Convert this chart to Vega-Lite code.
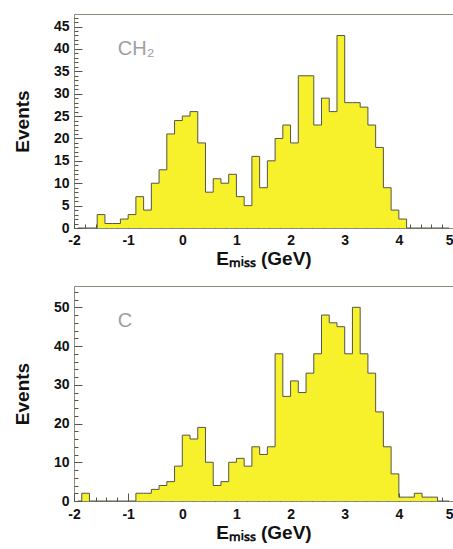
{
  "$schema": "https://vega.github.io/schema/vega-lite/v6.json",
  "padding": {"left": 12, "top": 10, "right": 0, "bottom": 4},
  "spacing": 15,
  "config": {
    "view": {"stroke": "#8c8c7c", "strokeWidth": 1},
    "font": "Liberation Sans",
    "axis": {
      "labelFont": "Liberation Sans", "labelFontWeight": "bold", "labelFontSize": 14, "labelColor": "#111",
      "titleFont": "Liberation Sans", "titleFontWeight": "bold", "titleFontSize": 19, "titleColor": "#111",
      "grid": false, "domain": false, "tickColor": "#55554a", "tickWidth": 1, "labelOverlap": false, "labelFlush": false
    }
  },
  "datasets": {
    "ch2": [
      {"e": -1.9286, "n": 0}, {"e": -1.7857, "n": 0}, {"e": -1.6429, "n": 0}, {"e": -1.5, "n": 3}, {"e": -1.3571, "n": 1},
      {"e": -1.2143, "n": 1}, {"e": -1.0714, "n": 2}, {"e": -0.9286, "n": 3}, {"e": -0.7857, "n": 7}, {"e": -0.6429, "n": 4},
      {"e": -0.5, "n": 10}, {"e": -0.3571, "n": 13}, {"e": -0.2143, "n": 21}, {"e": -0.0714, "n": 24}, {"e": 0.0714, "n": 25},
      {"e": 0.2143, "n": 26}, {"e": 0.3571, "n": 19}, {"e": 0.5, "n": 8}, {"e": 0.6429, "n": 11}, {"e": 0.7857, "n": 10},
      {"e": 0.9286, "n": 12}, {"e": 1.0714, "n": 7}, {"e": 1.2143, "n": 5}, {"e": 1.3571, "n": 16}, {"e": 1.5, "n": 9},
      {"e": 1.6429, "n": 15}, {"e": 1.7857, "n": 20}, {"e": 1.9286, "n": 23}, {"e": 2.0714, "n": 19}, {"e": 2.2143, "n": 34},
      {"e": 2.3571, "n": 34}, {"e": 2.5, "n": 23}, {"e": 2.6429, "n": 29}, {"e": 2.7857, "n": 26}, {"e": 2.9286, "n": 43},
      {"e": 3.0714, "n": 28}, {"e": 3.2143, "n": 28}, {"e": 3.3571, "n": 27}, {"e": 3.5, "n": 23}, {"e": 3.6429, "n": 18},
      {"e": 3.7857, "n": 9}, {"e": 3.9286, "n": 4}, {"e": 4.0714, "n": 2}, {"e": 4.2143, "n": 0}, {"e": 4.3571, "n": 0},
      {"e": 4.5, "n": 0}, {"e": 4.6429, "n": 0}, {"e": 4.7857, "n": 0}, {"e": 4.9286, "n": 0}
    ],
    "c": [
      {"e": -1.9286, "n": 0}, {"e": -1.7857, "n": 2}, {"e": -1.6429, "n": 0}, {"e": -1.5, "n": 0}, {"e": -1.3571, "n": 0},
      {"e": -1.2143, "n": 0}, {"e": -1.0714, "n": 0}, {"e": -0.9286, "n": 0}, {"e": -0.7857, "n": 2}, {"e": -0.6429, "n": 2},
      {"e": -0.5, "n": 3}, {"e": -0.3571, "n": 4}, {"e": -0.2143, "n": 5}, {"e": -0.0714, "n": 9}, {"e": 0.0714, "n": 17},
      {"e": 0.2143, "n": 16}, {"e": 0.3571, "n": 19}, {"e": 0.5, "n": 10}, {"e": 0.6429, "n": 4}, {"e": 0.7857, "n": 5},
      {"e": 0.9286, "n": 10}, {"e": 1.0714, "n": 11}, {"e": 1.2143, "n": 9}, {"e": 1.3571, "n": 14}, {"e": 1.5, "n": 12},
      {"e": 1.6429, "n": 14}, {"e": 1.7857, "n": 38}, {"e": 1.9286, "n": 27}, {"e": 2.0714, "n": 31}, {"e": 2.2143, "n": 28},
      {"e": 2.3571, "n": 33}, {"e": 2.5, "n": 38}, {"e": 2.6429, "n": 48}, {"e": 2.7857, "n": 46}, {"e": 2.9286, "n": 45},
      {"e": 3.0714, "n": 38}, {"e": 3.2143, "n": 50}, {"e": 3.3571, "n": 38}, {"e": 3.5, "n": 33}, {"e": 3.6429, "n": 23},
      {"e": 3.7857, "n": 14}, {"e": 3.9286, "n": 7}, {"e": 4.0714, "n": 1}, {"e": 4.2143, "n": 1}, {"e": 4.3571, "n": 2},
      {"e": 4.5, "n": 1}, {"e": 4.6429, "n": 1}, {"e": 4.7857, "n": 0}, {"e": 4.9286, "n": 0}
    ],
    "labels": [
      {"panel": "CH2", "label": "CH₂"},
      {"panel": "C", "label": "C"}
    ]
  },
  "vconcat": [
    {
      "width": 379,
      "height": 214,
      "layer": [
        {
          "data": {"name": "ch2"},
          "mark": {"type": "area", "interpolate": "step", "color": "#f6f12a", "opacity": 1},
          "encoding": {
            "x": {
              "field": "e", "type": "quantitative",
              "scale": {"domain": [-2, 5], "nice": false, "zero": false},
              "axis": {
                "title": "Eₘᵢₛₛ (GeV)",
                "values": [-2, -1.8, -1.6, -1.4, -1.2, -1, -0.8, -0.6, -0.4, -0.2, 0, 0.2, 0.4, 0.6, 0.8, 1, 1.2, 1.4, 1.6, 1.8, 2, 2.2, 2.4, 2.6, 2.8, 3, 3.2, 3.4, 3.6, 3.8, 4, 4.2, 4.4, 4.6, 4.8, 5],
                "labelExpr": "abs(datum.value - round(datum.value)) < 0.001 ? '' + round(datum.value) : ''",
                "tickSize": {"condition": {"test": "abs(datum.value - round(datum.value)) < 0.001", "value": -8}, "value": -4},
                "labelPadding": {"condition": {"test": "abs(datum.value - round(datum.value)) < 0.001", "value": 13}, "value": 9},
                "labelAlign": {"condition": {"test": "datum.value > 4.9", "value": "right"}, "value": "center"},
                "titlePadding": 2
              }
            },
            "y": {
              "field": "n", "type": "quantitative",
              "scale": {"domain": [0, 47.8], "nice": false},
              "axis": {
                "title": "Events",
                "values": [0, 1, 2, 3, 4, 5, 6, 7, 8, 9, 10, 11, 12, 13, 14, 15, 16, 17, 18, 19, 20, 21, 22, 23, 24, 25, 26, 27, 28, 29, 30, 31, 32, 33, 34, 35, 36, 37, 38, 39, 40, 41, 42, 43, 44, 45, 46, 47],
                "labelExpr": "datum.value % 5 === 0 ? '' + datum.value : ''",
                "tickSize": {"condition": {"test": "datum.value % 5 === 0", "value": -8}, "value": -4},
                "labelPadding": {"condition": {"test": "datum.value % 5 === 0", "value": 13}, "value": 9},
                "titlePadding": 21
              }
            }
          }
        },
        {
          "data": {"name": "ch2"},
          "mark": {"type": "line", "interpolate": "step", "color": "#55554a", "strokeWidth": 1},
          "encoding": {
            "x": {
              "field": "e", "type": "quantitative",
              "scale": {"domain": [-2, 5], "nice": false, "zero": false},
              "axis": {
                "title": "Eₘᵢₛₛ (GeV)",
                "values": [-2, -1.8, -1.6, -1.4, -1.2, -1, -0.8, -0.6, -0.4, -0.2, 0, 0.2, 0.4, 0.6, 0.8, 1, 1.2, 1.4, 1.6, 1.8, 2, 2.2, 2.4, 2.6, 2.8, 3, 3.2, 3.4, 3.6, 3.8, 4, 4.2, 4.4, 4.6, 4.8, 5],
                "labelExpr": "abs(datum.value - round(datum.value)) < 0.001 ? '' + round(datum.value) : ''",
                "tickSize": {"condition": {"test": "abs(datum.value - round(datum.value)) < 0.001", "value": -8}, "value": -4},
                "labelPadding": {"condition": {"test": "abs(datum.value - round(datum.value)) < 0.001", "value": 13}, "value": 9},
                "labelAlign": {"condition": {"test": "datum.value > 4.9", "value": "right"}, "value": "center"},
                "titlePadding": 2
              }
            },
            "y": {
              "field": "n", "type": "quantitative",
              "scale": {"domain": [0, 47.8], "nice": false},
              "axis": {
                "title": "Events",
                "values": [0, 1, 2, 3, 4, 5, 6, 7, 8, 9, 10, 11, 12, 13, 14, 15, 16, 17, 18, 19, 20, 21, 22, 23, 24, 25, 26, 27, 28, 29, 30, 31, 32, 33, 34, 35, 36, 37, 38, 39, 40, 41, 42, 43, 44, 45, 46, 47],
                "labelExpr": "datum.value % 5 === 0 ? '' + datum.value : ''",
                "tickSize": {"condition": {"test": "datum.value % 5 === 0", "value": -8}, "value": -4},
                "labelPadding": {"condition": {"test": "datum.value % 5 === 0", "value": 13}, "value": 9},
                "titlePadding": 21
              }
            }
          }
        },
        {
          "data": {"name": "labels"},
          "transform": [{"filter": "datum.panel === 'CH2'"}],
          "mark": {"type": "text", "align": "left", "baseline": "middle", "fontSize": 20, "font": "Liberation Sans", "color": "#a0a0a0"},
          "encoding": {
            "x": {
              "datum": -1.19, "type": "quantitative",
              "scale": {"domain": [-2, 5], "nice": false, "zero": false},
              "axis": {
                "title": "Eₘᵢₛₛ (GeV)",
                "values": [-2, -1.8, -1.6, -1.4, -1.2, -1, -0.8, -0.6, -0.4, -0.2, 0, 0.2, 0.4, 0.6, 0.8, 1, 1.2, 1.4, 1.6, 1.8, 2, 2.2, 2.4, 2.6, 2.8, 3, 3.2, 3.4, 3.6, 3.8, 4, 4.2, 4.4, 4.6, 4.8, 5],
                "labelExpr": "abs(datum.value - round(datum.value)) < 0.001 ? '' + round(datum.value) : ''",
                "tickSize": {"condition": {"test": "abs(datum.value - round(datum.value)) < 0.001", "value": -8}, "value": -4},
                "labelPadding": {"condition": {"test": "abs(datum.value - round(datum.value)) < 0.001", "value": 13}, "value": 9},
                "labelAlign": {"condition": {"test": "datum.value > 4.9", "value": "right"}, "value": "center"},
                "titlePadding": 2
              }
            },
            "y": {
              "datum": 40, "type": "quantitative",
              "scale": {"domain": [0, 47.8], "nice": false},
              "axis": {
                "title": "Events",
                "values": [0, 1, 2, 3, 4, 5, 6, 7, 8, 9, 10, 11, 12, 13, 14, 15, 16, 17, 18, 19, 20, 21, 22, 23, 24, 25, 26, 27, 28, 29, 30, 31, 32, 33, 34, 35, 36, 37, 38, 39, 40, 41, 42, 43, 44, 45, 46, 47],
                "labelExpr": "datum.value % 5 === 0 ? '' + datum.value : ''",
                "tickSize": {"condition": {"test": "datum.value % 5 === 0", "value": -8}, "value": -4},
                "labelPadding": {"condition": {"test": "datum.value % 5 === 0", "value": 13}, "value": 9},
                "titlePadding": 21
              }
            },
            "text": {"field": "label", "type": "nominal"}
          }
        }
      ]
    },
    {
      "width": 379,
      "height": 215,
      "layer": [
        {
          "data": {"name": "c"},
          "mark": {"type": "area", "interpolate": "step", "color": "#f6f12a", "opacity": 1},
          "encoding": {
            "x": {
              "field": "e", "type": "quantitative",
              "scale": {"domain": [-2, 5], "nice": false, "zero": false},
              "axis": {
                "title": "Eₘᵢₛₛ (GeV)",
                "values": [-2, -1.8, -1.6, -1.4, -1.2, -1, -0.8, -0.6, -0.4, -0.2, 0, 0.2, 0.4, 0.6, 0.8, 1, 1.2, 1.4, 1.6, 1.8, 2, 2.2, 2.4, 2.6, 2.8, 3, 3.2, 3.4, 3.6, 3.8, 4, 4.2, 4.4, 4.6, 4.8, 5],
                "labelExpr": "abs(datum.value - round(datum.value)) < 0.001 ? '' + round(datum.value) : ''",
                "tickSize": {"condition": {"test": "abs(datum.value - round(datum.value)) < 0.001", "value": -8}, "value": -4},
                "labelPadding": {"condition": {"test": "abs(datum.value - round(datum.value)) < 0.001", "value": 14}, "value": 10},
                "labelAlign": {"condition": {"test": "datum.value > 4.9", "value": "right"}, "value": "center"},
                "titlePadding": 2
              }
            },
            "y": {
              "field": "n", "type": "quantitative",
              "scale": {"domain": [0, 55.5], "nice": false},
              "axis": {
                "title": "Events",
                "values": [0, 2, 4, 6, 8, 10, 12, 14, 16, 18, 20, 22, 24, 26, 28, 30, 32, 34, 36, 38, 40, 42, 44, 46, 48, 50, 52, 54],
                "labelExpr": "datum.value % 10 === 0 ? '' + datum.value : ''",
                "tickSize": {"condition": {"test": "datum.value % 10 === 0", "value": -8}, "value": -4},
                "labelPadding": {"condition": {"test": "datum.value % 10 === 0", "value": 13}, "value": 9},
                "titlePadding": 21
              }
            }
          }
        },
        {
          "data": {"name": "c"},
          "mark": {"type": "line", "interpolate": "step", "color": "#55554a", "strokeWidth": 1},
          "encoding": {
            "x": {
              "field": "e", "type": "quantitative",
              "scale": {"domain": [-2, 5], "nice": false, "zero": false},
              "axis": {
                "title": "Eₘᵢₛₛ (GeV)",
                "values": [-2, -1.8, -1.6, -1.4, -1.2, -1, -0.8, -0.6, -0.4, -0.2, 0, 0.2, 0.4, 0.6, 0.8, 1, 1.2, 1.4, 1.6, 1.8, 2, 2.2, 2.4, 2.6, 2.8, 3, 3.2, 3.4, 3.6, 3.8, 4, 4.2, 4.4, 4.6, 4.8, 5],
                "labelExpr": "abs(datum.value - round(datum.value)) < 0.001 ? '' + round(datum.value) : ''",
                "tickSize": {"condition": {"test": "abs(datum.value - round(datum.value)) < 0.001", "value": -8}, "value": -4},
                "labelPadding": {"condition": {"test": "abs(datum.value - round(datum.value)) < 0.001", "value": 14}, "value": 10},
                "labelAlign": {"condition": {"test": "datum.value > 4.9", "value": "right"}, "value": "center"},
                "titlePadding": 2
              }
            },
            "y": {
              "field": "n", "type": "quantitative",
              "scale": {"domain": [0, 55.5], "nice": false},
              "axis": {
                "title": "Events",
                "values": [0, 2, 4, 6, 8, 10, 12, 14, 16, 18, 20, 22, 24, 26, 28, 30, 32, 34, 36, 38, 40, 42, 44, 46, 48, 50, 52, 54],
                "labelExpr": "datum.value % 10 === 0 ? '' + datum.value : ''",
                "tickSize": {"condition": {"test": "datum.value % 10 === 0", "value": -8}, "value": -4},
                "labelPadding": {"condition": {"test": "datum.value % 10 === 0", "value": 13}, "value": 9},
                "titlePadding": 21
              }
            }
          }
        },
        {
          "data": {"name": "labels"},
          "transform": [{"filter": "datum.panel === 'C'"}],
          "mark": {"type": "text", "align": "left", "baseline": "middle", "fontSize": 20, "font": "Liberation Sans", "color": "#a0a0a0"},
          "encoding": {
            "x": {
              "datum": -1.19, "type": "quantitative",
              "scale": {"domain": [-2, 5], "nice": false, "zero": false},
              "axis": {
                "title": "Eₘᵢₛₛ (GeV)",
                "values": [-2, -1.8, -1.6, -1.4, -1.2, -1, -0.8, -0.6, -0.4, -0.2, 0, 0.2, 0.4, 0.6, 0.8, 1, 1.2, 1.4, 1.6, 1.8, 2, 2.2, 2.4, 2.6, 2.8, 3, 3.2, 3.4, 3.6, 3.8, 4, 4.2, 4.4, 4.6, 4.8, 5],
                "labelExpr": "abs(datum.value - round(datum.value)) < 0.001 ? '' + round(datum.value) : ''",
                "tickSize": {"condition": {"test": "abs(datum.value - round(datum.value)) < 0.001", "value": -8}, "value": -4},
                "labelPadding": {"condition": {"test": "abs(datum.value - round(datum.value)) < 0.001", "value": 14}, "value": 10},
                "labelAlign": {"condition": {"test": "datum.value > 4.9", "value": "right"}, "value": "center"},
                "titlePadding": 2
              }
            },
            "y": {
              "datum": 46.5, "type": "quantitative",
              "scale": {"domain": [0, 55.5], "nice": false},
              "axis": {
                "title": "Events",
                "values": [0, 2, 4, 6, 8, 10, 12, 14, 16, 18, 20, 22, 24, 26, 28, 30, 32, 34, 36, 38, 40, 42, 44, 46, 48, 50, 52, 54],
                "labelExpr": "datum.value % 10 === 0 ? '' + datum.value : ''",
                "tickSize": {"condition": {"test": "datum.value % 10 === 0", "value": -8}, "value": -4},
                "labelPadding": {"condition": {"test": "datum.value % 10 === 0", "value": 13}, "value": 9},
                "titlePadding": 21
              }
            },
            "text": {"field": "label", "type": "nominal"}
          }
        }
      ]
    }
  ]
}
